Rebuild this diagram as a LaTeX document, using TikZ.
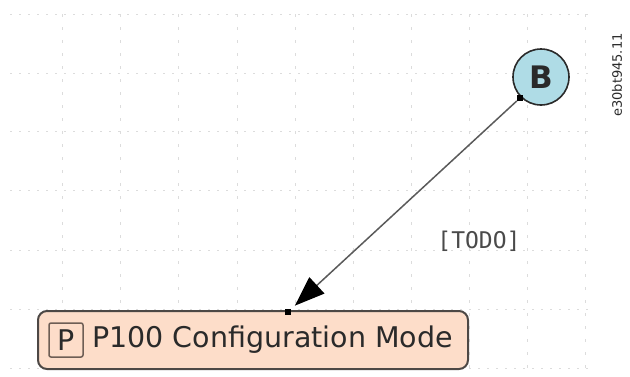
\documentclass[tikz,border=0pt]{standalone}
\usepackage{fontspec}
\setmainfont{DejaVu Sans}
\newfontfamily\monofont{DejaVu Sans Mono}
\usetikzlibrary{arrows.meta,positioning}
\definecolor{GridGray}{HTML}{DCDCDC}
\definecolor{StateFill}{HTML}{FDDDC9}
\definecolor{StateEdge}{HTML}{4D4845}
\definecolor{TagEdge}{HTML}{6E5E55}
\definecolor{JumpFill}{HTML}{AFDCE6}
\definecolor{Ink}{HTML}{2A2A2A}
\definecolor{LinkGray}{HTML}{5A5A5A}
\tikzset{
  statebox/.style={draw=StateEdge,line width=2pt,fill=StateFill,rounded corners=9pt,minimum width=430pt,minimum height=58pt},
  tagbox/.style={draw=TagEdge,line width=1.5pt,rounded corners=2pt,minimum size=34pt,inner sep=0pt,text=Ink},
  jumpnode/.style={circle,draw=Ink,line width=1.6pt,fill=JumpFill,minimum size=56pt,inner sep=0pt,text=Ink,font=\bfseries\fontsize{31}{31}\selectfont},
  pinmark/.style={fill=black,minimum size=6pt,inner sep=0pt},
}

\begin{document}
\begin{tikzpicture}[x=1pt,y=-1pt]
  \useasboundingbox (0,0) rectangle (630,376);
  \foreach \x in {62,120,178,237,295,353,411,469,527,585}
    \draw[GridGray,line width=1pt,dash pattern=on 3pt off 10pt] (\x,14) -- (\x,376);
  \foreach \y in {14,73,131,190,250,309,368}
    \draw[GridGray,line width=1pt,dash pattern=on 2pt off 7pt] (10,\y) -- (590,\y);
  \node[statebox] (cfg) at (253,340) {};
  \node[tagbox,font=\fontsize{28.5}{30}\selectfont] (ptag) at (66,340) {P};
  \node[anchor=west,inner sep=0pt,text=Ink,font=\fontsize{28.5}{30}\selectfont] (cfglabel) at (92,340) {P100 Configuration Mode};
  \node[jumpnode] (jumpB) at (541,77) {B};
  \node[pinmark] (srcpin) at (520,98) {};
  \node[pinmark] (dstpin) at (288,312) {};
  \draw[LinkGray,line width=1.5pt,-{Triangle[length=30pt,width=22pt,color=black]},shorten >=5pt] (srcpin) -- (dstpin);
  \node[text=Ink!85,font=\monofont\fontsize{23}{23}\selectfont] (guard) at (479,241) {[TODO]};
  \node[rotate=90,text=Ink,font=\fontsize{13}{13}\selectfont] (figid) at (617,75) {e30bt945.11};
\end{tikzpicture}
\end{document}
